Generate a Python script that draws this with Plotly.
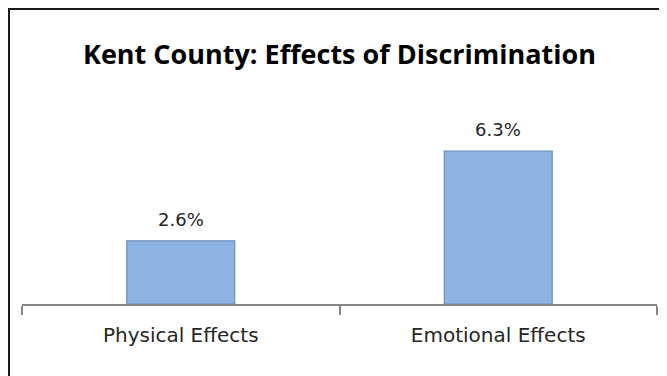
import plotly.graph_objects as go

categories = ["Physical Effects", "Emotional Effects"]
values = [2.6, 6.3]
labels = ["2.6%", "6.3%"]
title_text = "Kent County: Effects of Discrimination"

# page body has an 8px margin, so the figure is drawn 8px in from the top-left
OFF = 8
W, H = 667 - OFF, 376 - OFF
ml, mr, mb = 22 - OFF, 10, 72
plot_h = 170
mt = H - mb - plot_h

label_font = dict(family="DejaVu Sans", size=18, color="#262626")
tick_font = dict(family="DejaVu Sans", size=20, color="#262626")

fig = go.Figure()
fig.add_trace(go.Bar(
    x=categories, y=values,
    marker=dict(color="#8DB3E2", line=dict(color="#6F8FBA", width=1.2)),
    width=0.34, hoverinfo="skip",
))
for c, v, t in zip(categories, values, labels):
    fig.add_annotation(x=c, y=v, text=t, showarrow=False, yanchor="bottom",
                       yshift=9, font=label_font)

fig.update_layout(
    width=W, height=H,
    margin=dict(l=ml, r=mr, t=mt, b=mb),
    paper_bgcolor="white", plot_bgcolor="white",
    showlegend=False,
    title=dict(text="<b>" + title_text + "</b>", x=0.5, xref="paper",
               y=1 - (55 - OFF) / H, yref="container", yanchor="middle", xanchor="center",
               font=dict(family="Open Sans", size=27, color="black")),
    xaxis=dict(showline=True, linecolor="#868686", linewidth=2,
               ticks="outside", tickson="boundaries", ticklen=9, tickcolor="#868686",
               tickwidth=2, tickfont=tick_font,
               ticklabelstandoff=12, range=[-0.5, 1.5]),
    yaxis=dict(visible=False, range=[0, 7.0], showgrid=False),
)

plot_w = W - ml - mr
x0 = (1 - ml) / plot_w
y1 = (H - mb - 1) / plot_h
fig.add_shape(type="rect", xref="paper", yref="paper",
              x0=x0, x1=1.2, y0=-1.0, y1=y1,
              line=dict(color="#1a1a1a", width=2), layer="below")

fig.write_html("out.html")
